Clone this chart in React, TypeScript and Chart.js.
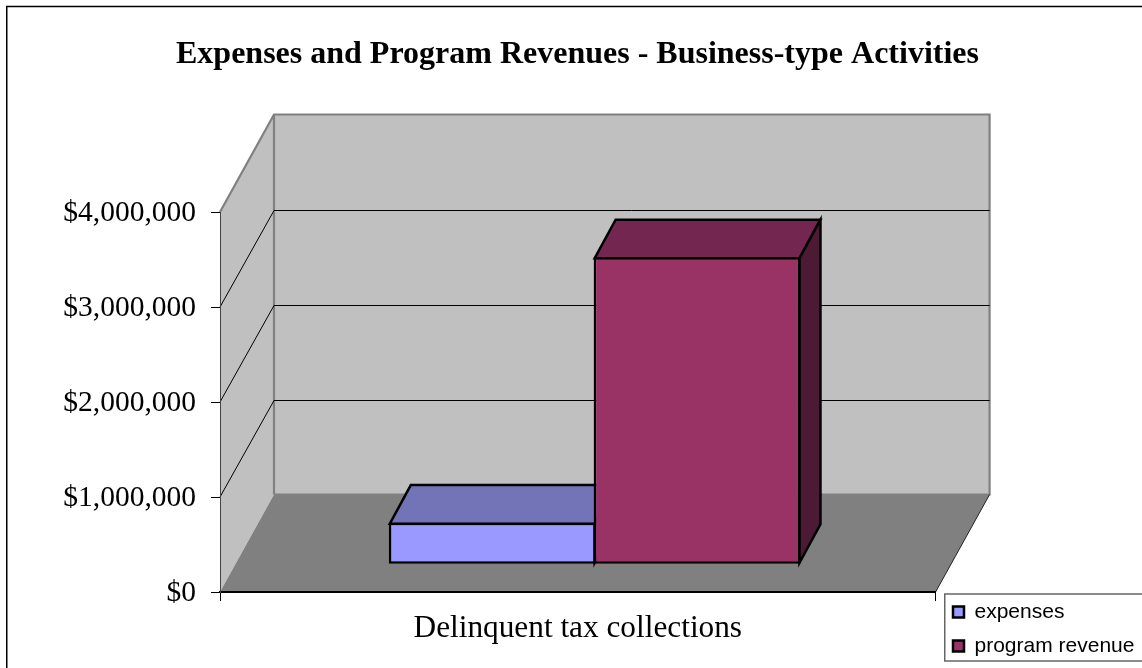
import React, { useEffect, useRef } from "react";
import { Chart, registerables } from "chart.js";

Chart.register(...registerables);

const titleText = "Expenses and Program Revenues - Business-type Activities";
const categories = ["Delinquent tax collections"];
const expenses = [438000];
const programRevenue = [3232000];
const yTicks = [0, 1000000, 2000000, 3000000, 4000000];

const SERIF = "'Liberation Serif', serif";
const SANS = "'Liberation Sans', sans-serif";

// 3D projection offsets (pixels)
const DEPTH = { x: 54, y: -97.5 };
const BAR_NEAR = { x: 16.85, y: -27.7 };
const BAR_DEPTH = { x: 21, y: -38.6 };

function poly(ctx: CanvasRenderingContext2D, pts: number[][], fill?: string, stroke?: string, lw = 1) {
  ctx.beginPath();
  pts.forEach((p, i) => (i ? ctx.lineTo(p[0], p[1]) : ctx.moveTo(p[0], p[1])));
  ctx.closePath();
  if (fill) {
    ctx.fillStyle = fill;
    ctx.fill();
  }
  if (stroke) {
    ctx.strokeStyle = stroke;
    ctx.lineWidth = lw;
    ctx.lineJoin = "miter";
    ctx.stroke();
  }
}

const scene3d = {
  id: "scene3d",
  afterLayout(chart: any) {
    const lg = chart.legend;
    if (lg) {
      const w = lg.right - lg.left;
      lg.left = 940;
      lg.right = 940 + w;
      lg.top = 588.5;
      lg.bottom = 720;
    }
    if (chart.titleBlock) {
      chart.titleBlock.left += 7.5;
      chart.titleBlock.right += 7.5;
    }
  },
  beforeDraw(chart: any) {
    const ctx: CanvasRenderingContext2D = chart.ctx;
    const { left, right } = chart.chartArea;
    const y = chart.scales.y;
    const yMin = y.getPixelForValue(0);
    const yMax = y.getPixelForValue(yTicks[yTicks.length - 1]);
    const dx = DEPTH.x;
    const dy = DEPTH.y;
    ctx.save();
    ctx.fillStyle = "#ffffff";
    ctx.fillRect(0, 0, chart.width, chart.height);
    ctx.strokeStyle = "#000000";
    ctx.lineWidth = 1.5;
    ctx.strokeRect(6.75, 6.5, 1300, 900);
    // legend frame
    ctx.strokeStyle = "#666666";
    ctx.lineWidth = 1.5;
    ctx.strokeRect(944.75, 594, 400, 67);
    // side wall
    poly(ctx, [[left, yMin], [left + dx, yMin + dy], [left + dx, yMax + dy], [left, yMax]], "#c0c0c0");
    // back wall
    poly(ctx, [[left + dx, yMin + dy], [right + dx, yMin + dy], [right + dx, yMax + dy], [left + dx, yMax + dy]], "#c0c0c0");
    // floor
    poly(ctx, [[left, yMin], [right, yMin], [right + dx, yMin + dy], [left + dx, yMin + dy]], "#808080");
    // wall edges
    ctx.strokeStyle = "#808080";
    ctx.lineWidth = 2.2;
    ctx.beginPath();
    ctx.moveTo(left, yMax);
    ctx.lineTo(left + dx, yMax + dy);
    ctx.lineTo(right + dx, yMax + dy);
    ctx.lineTo(right + dx, yMin + dy);
    ctx.lineTo(left + dx, yMin + dy);
    ctx.moveTo(left + dx, yMax + dy);
    ctx.lineTo(left + dx, yMin + dy);
    ctx.stroke();
    // gridlines
    ctx.strokeStyle = "#000000";
    ctx.lineWidth = 1;
    ctx.beginPath();
    yTicks.slice(1, -1).forEach((v) => {
      const p = Math.round(y.getPixelForValue(v));
      const back = Math.round(p + dy) + 0.5;
      ctx.moveTo(left, p);
      ctx.lineTo(left + dx, back);
      ctx.lineTo(right + dx, back);
    });
    ctx.stroke();
    // floor right edge
    ctx.strokeStyle = "#222222";
    ctx.beginPath();
    ctx.moveTo(right, yMin);
    ctx.lineTo(right + dx, yMin + dy);
    ctx.stroke();
    ctx.restore();
  },
  beforeDatasetsDraw(chart: any) {
    const ctx: CanvasRenderingContext2D = chart.ctx;
    ctx.save();
    // tops and sides of the bars, from the bar elements
    const tops = ["#7373b8", "#732650"];
    const sides = ["#4d4d80", "#4d1a36"];
    chart.data.datasets.forEach((_: any, di: number) => {
      const el = chart.getDatasetMeta(di).data[0];
      const half = el.width / 2;
      const l = el.x - half + BAR_NEAR.x + 1;
      const r = el.x + half + BAR_NEAR.x - 1;
      const t = el.y + BAR_NEAR.y + 1;
      const b = el.base + BAR_NEAR.y - 1;
      const ex = BAR_DEPTH.x;
      const ey = BAR_DEPTH.y;
      poly(ctx, [[l, t], [r, t], [r + ex, t + ey], [l + ex, t + ey]], tops[di], "#000000", 2.5);
      poly(ctx, [[r, t], [r + ex, t + ey], [r + ex, b + ey], [r, b]], sides[di], "#000000", 2.5);
    });
    ctx.restore();
    ctx.save();
    ctx.translate(BAR_NEAR.x, BAR_NEAR.y);
  },
  afterDatasetsDraw(chart: any) {
    chart.ctx.restore();
  },
};

export default function App() {
  const ref = useRef<HTMLCanvasElement | null>(null);
  useEffect(() => {
    if (!ref.current) return;
    const chart = new Chart(ref.current, {
      type: "bar",
      plugins: [scene3d],
      data: {
        labels: categories,
        datasets: [
          {
            label: "expenses",
            data: expenses,
            backgroundColor: "#9999ff",
            borderColor: "#000000",
            borderWidth: 2.5,
            borderSkipped: false,
            clip: false,
            categoryPercentage: 0.5725,
            barPercentage: 1.00977,
          },
          {
            label: "program revenue",
            data: programRevenue,
            backgroundColor: "#993366",
            borderColor: "#000000",
            borderWidth: 2.5,
            borderSkipped: false,
            clip: false,
            categoryPercentage: 0.5725,
            barPercentage: 1.00977,
          },
        ],
      } as any,
      options: {
        responsive: false,
        animation: false,
        layout: { padding: { left: 0, right: 2, top: 0, bottom: 0 } },
        plugins: {
          title: {
            display: true,
            text: titleText,
            color: "#000000",
            font: { family: SERIF, size: 32, weight: "bold" },
            padding: { top: 36, bottom: 137.6 },
          },
          legend: {
            display: true,
            position: "right",
            align: "start",
            maxWidth: 207,
            labels: {
              boxWidth: 11,
              boxHeight: 11,
              padding: 13,
              color: "#000000",
              font: { family: SANS, size: 21 },
            },
          },
          tooltip: { enabled: false },
        },
        scales: {
          x: {
            grid: { display: true, drawOnChartArea: false, drawTicks: true, tickLength: 9, tickColor: "#000000", offset: true },
            border: { color: "#000000", width: 2 },
            ticks: { color: "#000000", font: { family: SERIF, size: 31.3 }, padding: 9 },
            afterFit(s: any) {
              s.height = 76;
            },
          },
          y: {
            min: 0,
            max: 4000000,
            afterBuildTicks(s: any) {
              s.ticks = yTicks.map((value) => ({ value }));
            },
            grid: { display: true, drawOnChartArea: false, drawTicks: true, tickLength: 9, tickColor: "#000000" },
            border: { color: "#444444", width: 1 },
            ticks: {
              color: "#000000",
              font: { family: SERIF, size: 29.5 },
              padding: 15,
              labelOffset: 1.5,
              callback: (v: any) => "$" + Number(v).toLocaleString("en-US"),
            },
            afterFit(s: any) {
              s.width = 220;
            },
          },
        },
      } as any,
    });
    return () => chart.destroy();
  }, []);
  return (
    <div style={{ position: "fixed", left: 0, top: 0, width: 1142, height: 668, overflow: "hidden" }}>
      <canvas ref={ref} width={1142} height={668} style={{ display: "block" }} />
    </div>
  );
}
